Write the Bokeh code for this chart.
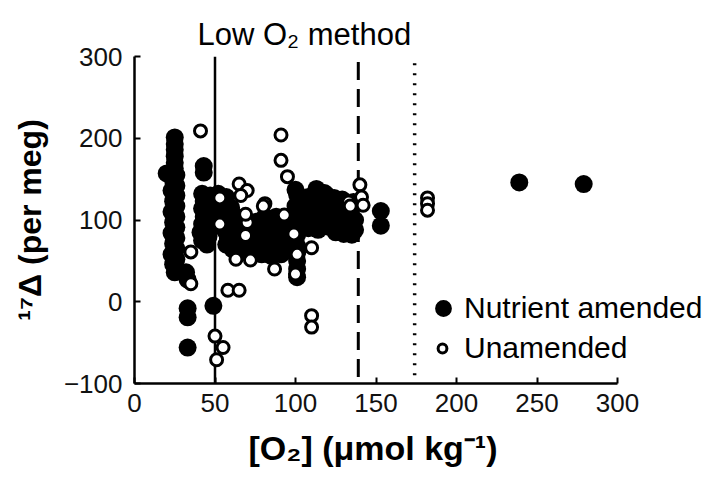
from bokeh.plotting import figure
from bokeh.models import Range1d, Legend, LegendItem, Title
from bokeh.embed import file_html
from bokeh.resources import INLINE

# Triple-oxygen excess (17Δ, per meg) against dissolved O2 (µmol/kg)
amended_o2 = [25, 25, 25, 25, 25, 25, 20, 26, 24, 26, 23, 26, 24, 26, 23, 26, 24, 26, 23, 26,
              24, 26, 23, 26, 24, 26, 25,
              32, 33,
              33, 33, 33, 49,
              43, 43, 42, 47, 43, 48, 42, 47, 43, 48, 42, 47, 41, 46, 42, 45,
              52, 57, 55, 60, 56, 62, 57, 61, 56, 62, 58, 63, 57, 61, 65,
              67, 73, 79, 85, 91, 97, 67, 73, 79, 85, 91, 97, 67, 73, 79, 85, 91, 97,
              67, 73, 79, 85, 91, 97, 70, 76, 82, 88, 94, 81, 88,
              100, 101, 102, 100, 101, 100, 101, 100, 101, 100, 101, 101, 101, 101, 101,
              108, 113, 118, 111, 117, 123, 128, 106, 110, 106, 112, 108, 114, 118, 122,
              126, 130, 134, 137, 124, 128, 133, 137, 120, 125, 130, 135, 118, 113, 119, 124, 129, 136,
              153, 153, 239, 279]
amended_d17 = [201, 193, 186, 178, 170, 163, 157, 155, 148, 142, 136, 130, 123, 117, 110, 104,
               97, 91, 84, 78, 71, 65, 58, 52, 46, 40, 36,
               36, 27,
               -8, -19, -56, -5,
               166, 158, 132, 130, 123, 120, 114, 110, 104, 100, 95, 90, 85, 80, 75, 70,
               132, 128, 120, 115, 110, 105, 100, 95, 88, 84, 78, 73, 70, 64, 60,
               62, 60, 58, 56, 58, 62, 70, 70, 68, 66, 68, 70, 80, 80, 78, 76, 78, 80,
               90, 90, 88, 86, 88, 90, 97, 98, 97, 98, 97, 104, 104,
               137, 131, 124, 117, 110, 103, 96, 89, 82, 75, 68, 60, 50, 40, 30,
               128, 138, 133, 120, 124, 126, 122, 115, 108, 100, 98, 90, 88, 115, 110,
               118, 112, 108, 100, 100, 95, 92, 88, 92, 85, 83, 82, 105, 112, 131, 127, 125, 122,
               111, 93, 146, 144]

unamended_o2 = [41, 91, 91, 95, 65, 70, 66, 81, 53, 140, 141, 142, 133, 134,
                53, 70, 69, 93, 69, 80, 35, 35, 58, 65, 63, 72, 87, 100, 110,
                110, 110, 50, 55, 51, 101, 99, 182, 182, 182]
unamended_d17 = [209, 204, 173, 153, 144, 136, 130, 120, 127, 143, 128, 118, 122, 117,
                 95, 97, 107, 106, 81, 117, 61, 22, 14, 14, 52, 51, 40, 34, 66,
                 -17, -31, -42, -56, -71, 58, 83, 127, 120, 112]

x_ticks = [0, 50, 100, 150, 200, 250, 300]
y_ticks = [-100, 0, 100, 200, 300]

# O2 thresholds marked by vertical lines
method_o2 = [50, 139, 174]
method_top = [300, 303, 295]
method_bottom = [-100, -92, -90]
method_dash = ["solid", "18 9", "2 8"]
method_width = [2.5, 3, 3.5]

FONT = "Liberation Sans"

# The frame runs past 300 so the key beside the data is not clipped;
# the x axis itself is bounded to 0-300.
X_SCALE = 483 / 300  # px per µmol/kg
FRAME_W = 572

p = figure(width=710, height=483, x_range=Range1d(0, FRAME_W / X_SCALE),
           y_range=Range1d(-100, 300),
           output_backend="svg", toolbar_location=None,
           min_border_left=134, min_border_right=710 - 134 - FRAME_W,
           min_border_top=56, min_border_bottom=100)

p.title.text = "Low O\u2082 method"
p.title.text_font = FONT
p.title.text_font_size = "31px"
p.title.text_font_style = "normal"
p.title.align = "left"
p.title.offset = 63
p.title.text_color = "black"

p.outline_line_color = None
p.xgrid.grid_line_color = None
p.ygrid.grid_line_color = None
p.background_fill_color = "white"
p.border_fill_color = "white"

for ax, ticks in ((p.xaxis, x_ticks), (p.yaxis, y_ticks)):
    ax.ticker = ticks
    ax.major_tick_in = 6
    ax.major_tick_out = 0
    ax.minor_tick_line_color = None
    ax.axis_line_width = 2.5
    ax.major_tick_line_width = 2
    ax.axis_line_color = "black"
    ax.major_tick_line_color = "black"
    ax.major_label_text_font = FONT
    ax.major_label_text_font_size = "26px"
    ax.major_label_text_color = "#111111"

p.xaxis.bounds = (0, 300)
p.xaxis.major_label_standoff = 10
p.yaxis.major_label_standoff = 12

p.yaxis.axis_label = "\u00b9\u2077\u0394 (per meg)"
p.yaxis.axis_label_text_font = FONT
p.yaxis.axis_label_text_font_size = "32px"
p.yaxis.axis_label_text_font_style = "bold"
p.yaxis.axis_label_text_color = "black"
p.yaxis.axis_label_standoff = 13

# x-axis caption centred under the 0-300 span of the axis
p.add_layout(Title(text="[O\u2082] (\u03bcmol kg\u207b\u00b9)", align="left", offset=114,
                   text_font=FONT, text_font_size="34px", text_font_style="bold",
                   text_color="black", standoff=24), "below")

for xo, yt, yb, dash, lw in zip(method_o2, method_top, method_bottom, method_dash, method_width):
    p.segment(x0=[xo], y0=[yb], x1=[xo], y1=[yt], line_color="black",
              line_width=lw, line_dash=dash)

r_amended = p.scatter(amended_o2, amended_d17, size=18, marker="circle",
                      fill_color="black", line_color=None)
r_unamended = p.scatter(unamended_o2, unamended_d17, size=12, marker="circle",
                        fill_color="white", line_color="black", line_width=3)

def make_legend(item, loc, gw, gh, standoff):
    return Legend(items=[item], location=loc, glyph_width=gw, glyph_height=gh,
                  label_standoff=standoff, padding=0, margin=0, spacing=0,
                  border_line_color=None, background_fill_alpha=0,
                  label_text_font=FONT, label_text_font_size="30px",
                  label_text_color="black")

leg1 = make_legend(LegendItem(label="Nutrient amended", renderers=[r_amended]),
                   (288, 54), 42, 42, 0)
leg2 = make_legend(LegendItem(label="Unamended", renderers=[r_unamended]),
                   (297, 15), 22, 40, 11)
p.add_layout(leg1)
p.add_layout(leg2)

open("out.html", "w").write(file_html(p, INLINE))
